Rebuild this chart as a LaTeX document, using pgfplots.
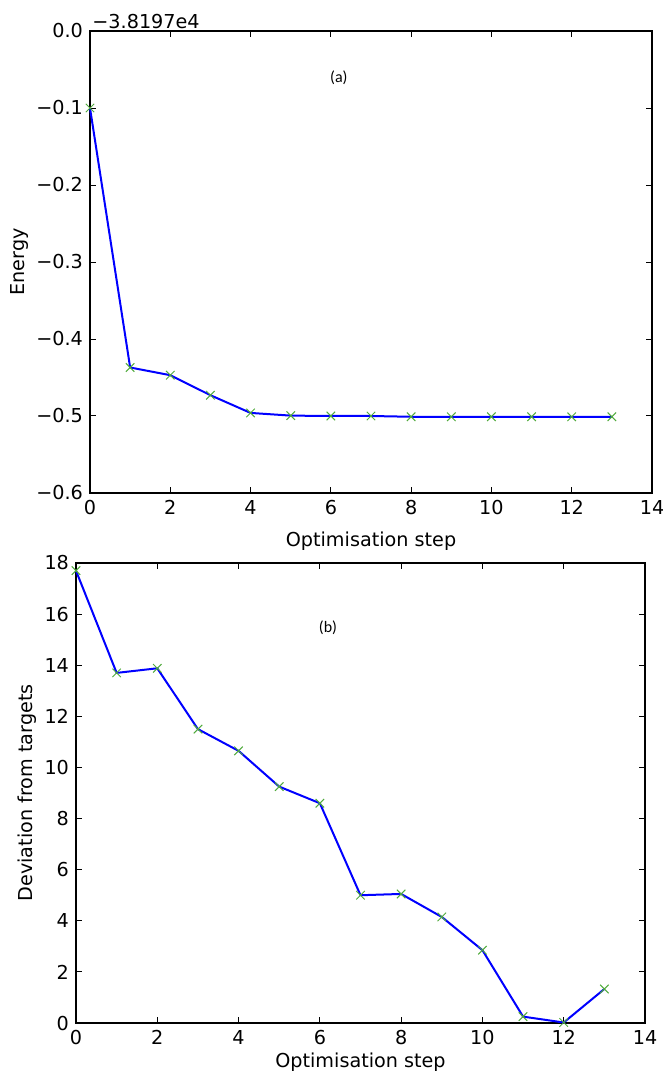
\documentclass[border=0pt]{standalone}
\usepackage{pgfplots}
\pgfplotsset{compat=1.18}
\usepackage{fontspec}
\setmainfont{DejaVu Sans}
\newfontfamily\labfont{Carlito}
\definecolor{mgreen}{RGB}{80,170,60}
\begin{document}
\begin{tikzpicture}
\path[use as bounding box] (0,0) rectangle (331.5pt,-538pt);
\pgfplotsset{every axis/.append style={
  scale only axis, font=\fontsize{9.6}{11.5}\selectfont,
  tick align=inside, major tick length=3pt, tick style={black, line width=0.5pt},
  axis line style={line width=0.6pt},
  /pgf/number format/assume math mode=true,
  xmin=0, xmax=14, xtick={0,2,...,14},
  xlabel={Optimisation step},
  ylabel style={yshift=-3pt},
}}
\begin{axis}[at={(45pt,-15.5pt)}, anchor=north west, width=281pt, height=231pt,
  ymin=-0.6, ymax=0, ytick={-0.6,-0.5,-0.4,-0.3,-0.2,-0.1,0},
  yticklabels={−0.6,−0.5,−0.4,−0.3,−0.2,−0.1,0.0},
  xlabel style={yshift=-2pt},
  ylabel={Energy}, clip=false]
\addplot[blue, line width=1pt, mark=x, mark size=3pt, mark options={mgreen, line width=0.5pt}] coordinates {(0,-0.1) (1,-0.437) (2,-0.447) (3,-0.473) (4,-0.496) (5,-0.4995) (6,-0.5) (7,-0.5) (8,-0.501) (9,-0.501) (10,-0.501) (11,-0.501) (12,-0.501) (13,-0.501)};
\node[anchor=south west, inner sep=1pt] at (rel axis cs:0,1) {−3.8197e4};
\node[font=\labfont\fontsize{8}{9}\selectfont] at (axis cs:6.2,-0.061) {(a)};
\end{axis}
\begin{axis}[at={(38pt,-281.5pt)}, anchor=north west, width=284.5pt, height=230pt,
  ymin=0, ymax=18, ytick={0,2,...,18},
  xlabel style={yshift=2.5pt},
  ylabel={Deviation from targets}, clip=false]
\addplot[blue, line width=1pt, mark=x, mark size=3pt, mark options={mgreen, line width=0.5pt}] coordinates {(0,17.7) (1,13.7) (2,13.88) (3,11.5) (4,10.65) (5,9.25) (6,8.6) (7,5.0) (8,5.05) (9,4.15) (10,2.85) (11,0.25) (12,0.02) (13,1.33)};
\node[font=\labfont\fontsize{8}{9}\selectfont] at (axis cs:6.2,15.45) {(b)};
\end{axis}
\end{tikzpicture}
\end{document}
